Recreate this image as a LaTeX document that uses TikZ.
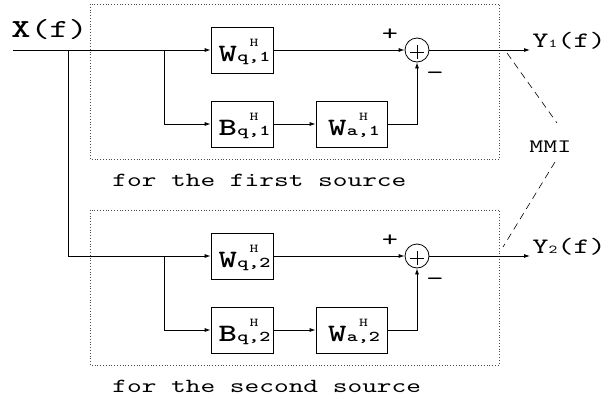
\documentclass[tikz,border=0pt]{standalone}
\usepackage{fontspec}
\usepackage{graphicx}
\newfontfamily\mono{lmmono10-regular}[Extension=.otf,BoldFont=lmmonolt10-bold,FakeStretch=1.4]
\usetikzlibrary{arrows.meta}
\newcommand\fs[1]{\fontsize{#1}{#1}\selectfont}
\newcommand\blkW[2]{\rule{0pt}{26pt}\kern5pt{\fs{25}\bfseries #1}\kern0.5pt\vbox{\baselineskip=15pt\lineskiplimit=-20pt\halign{\hfil##\hfil\cr\fs{12}H\cr\fs{15}\bfseries #2\cr}}}
\begin{document}
\begin{tikzpicture}[x=1pt,y=-1pt,line width=0.8pt,font=\mono,
  >={Latex[length=6pt,width=4pt]},
  blk/.style={draw,minimum width=62pt,minimum height=46pt,inner sep=0pt},
  blkw/.style={blk,minimum width=71pt},
  grp/.style={draw=black!70,dotted,line width=0.8pt},
  sum/.style={circle,draw,minimum size=24pt,inner sep=0pt},
  lbl/.style={anchor=base west,inner sep=0pt}]
\useasboundingbox (0,0) rectangle (608,399);
\draw[grp] (90,4) rectangle (499,159);
\draw[grp] (90,210) rectangle (499,365);
% source 1
\node[blk] (wq1) at (242,50) {\blkW{W}{q,1}};
\node[blk] (bq1) at (242,124) {\blkW{B}{q,1}};
\node[blkw] (wa1) at (351.5,124) {\blkW{W}{a,1}};
\node[sum] (s1) at (417,50) {};
\draw (s1.center)+(-7,2) -- +(7,2) (s1.center)+(0,-5) -- +(0,9);
% source 2
\node[blk] (wq2) at (242,256) {\blkW{W}{q,2}};
\node[blk] (bq2) at (242,330) {\blkW{B}{q,2}};
\node[blkw] (wa2) at (351.5,330) {\blkW{W}{a,2}};
\node[sum] (s2) at (417,256) {};
\draw (s2.center)+(-7,2) -- +(7,2) (s2.center)+(0,-5) -- +(0,9);
% coordinates
\coordinate (in) at (13,50);
\coordinate (br0) at (68,50);
\coordinate (br1) at (164,50);
\coordinate (br2) at (164,256);
\coordinate (out1) at (530,50);
\coordinate (out2) at (530,256);
% connectors
\draw[->] (in) -- (wq1.west);
\draw[->] (br0) |- (wq2.west);
\draw[->] (br1) |- (bq1.west);
\draw[->] (br2) |- (bq2.west);
\draw[->] (wq1) -- (s1);
\draw[->] (wq2) -- (s2);
\draw[->] (bq1) -- (wa1);
\draw[->] (bq2) -- (wa2);
\draw[->] (wa1.east) -| (s1.south);
\draw[->] (wa2.east) -| (s2.south);
\draw[->] (s1) -- (out1);
\draw[->] (s2) -- (out2);
% labels
\node[lbl] (xf) at (11,37) {{\fs{26}\bfseries X}{\fs{26}(f)}};
\node[lbl] (y1) at (532,47) {\fs{22}Y{\fs{12}1}(f)};
\node[lbl] (y2) at (532,253) {\fs{22}Y{\fs{12}2}(f)};
\node[anchor=center,inner sep=0pt] (p1) at (390,35) {\fs{22}+};
\node[anchor=center,inner sep=0pt] (m1) at (435,76) {\fs{22}−};
\node[anchor=center,inner sep=0pt] (p2) at (390,241) {\fs{22}+};
\node[anchor=center,inner sep=0pt] (m2) at (435,282) {\fs{22}−};
\node[lbl] (t1) at (112,186) {\fs{20}for the first source};
\node[lbl] (t2) at (112,392) {\fs{20}for the second source};
\node[lbl] (mmi) at (529,152) {\fs{19}MMI};
\coordinate (d1a) at (507,53);
\coordinate (d1b) at (557,123);
\coordinate (d2a) at (555,162);
\coordinate (d2b) at (503,247);
\draw[line width=0.6pt,dash pattern=on 7pt off 5pt] (d1a) -- (d1b);
\draw[line width=0.6pt,dash pattern=on 7pt off 5pt] (d2a) -- (d2b);
\end{tikzpicture}
\end{document}
